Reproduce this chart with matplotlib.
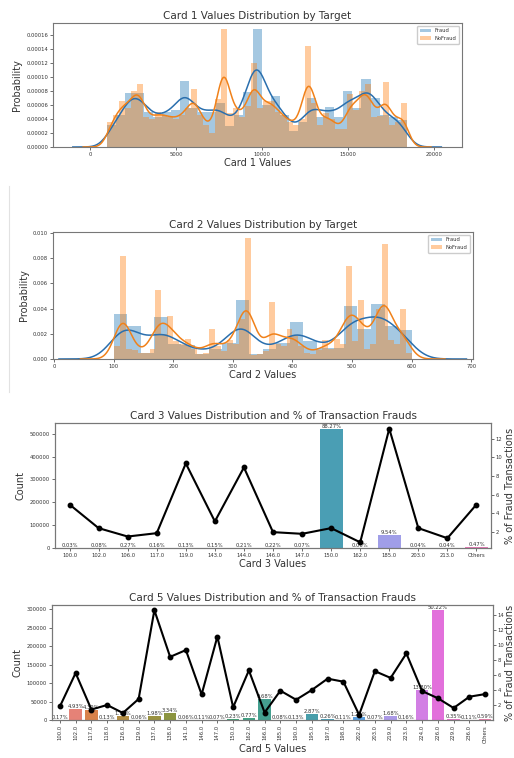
import numpy as np
import matplotlib
matplotlib.use("Agg")
import matplotlib.pyplot as plt
from matplotlib.lines import Line2D
from matplotlib.ticker import MultipleLocator, FormatStrFormatter
import seaborn as sns

# card1 histograms (density, per bin) for the two classes
card1_fraud_edges = np.linspace(1000, 18400, 34)
card1_fraud = np.array([3.2, 4.5, 7.7, 7.7, 5.0, 4.2, 5.0, 5.2, 9.4, 5.5,
                        5.0, 5.0, 6.3, 3.0, 4.5, 7.8, 16.8, 6.0, 7.2, 4.5,
                        2.3, 3.5, 7.0, 4.3, 5.7, 4.2, 8.0, 5.5, 9.7, 7.0,
                        4.5, 4.3, 3.8]) * 1e-5
card1_nofraud_edges = np.linspace(1000, 18400, 51)
card1_nofraud = np.array([3.5, 4.5, 6.5, 5.5, 8.0, 8.9, 4.2, 4.0, 5.0, 4.5,
                          4.3, 4.0, 4.5, 5.5, 8.3, 4.5, 3.2, 2.0, 6.8, 16.8,
                          4.8, 5.5, 4.3, 5.8, 12.0, 5.5, 6.5, 6.6, 5.0, 4.5,
                          3.5, 3.2, 4.0, 14.4, 6.3, 3.2, 4.8, 4.0, 2.6, 2.6,
                          7.5, 5.3, 8.0, 9.0, 4.3, 4.4, 9.3, 3.2, 3.5, 6.3]) * 1e-5

# card2 histograms
card2_fraud_edges = np.linspace(100, 600, 23)
card2_fraud = np.array([3.6, 2.6, 0.5, 3.3, 1.2, 1.1, 0.4, 0.8, 1.3, 4.7,
                        0.4, 0.8, 1.3, 2.9, 1.4, 0.9, 0.9, 4.2, 2.4, 4.4,
                        2.6, 2.3]) * 1e-3
card2_nofraud_edges = np.linspace(100, 600, 51)
card2_nofraud = np.array([1.0, 8.2, 0.8, 0.7, 0.5, 0.5, 0.8, 5.5, 2.0, 3.4,
                          1.4, 1.2, 1.6, 0.8, 0.4, 0.5, 2.4, 1.0, 0.6, 1.5,
                          1.2, 3.2, 9.6, 0.3, 0.4, 0.6, 4.5, 1.2, 1.0, 2.4,
                          1.8, 1.0, 0.5, 0.4, 0.7, 1.5, 0.8, 1.6, 1.2, 7.4,
                          1.4, 4.7, 0.8, 1.2, 4.0, 9.1, 1.5, 1.2, 4.0, 0.5]) * 1e-3

total_rows = 590540

card3_cats = ["100.0", "102.0", "106.0", "117.0", "119.0", "143.0", "144.0", "146.0",
              "147.0", "150.0", "162.0", "185.0", "203.0", "213.0", "Others"]
card3_counts = [177, 472, 1594, 945, 768, 886, 1240, 1299,
                413, 521270, 354, 56338, 236, 236, 2776]
card3_fraud_pct = [4.95, 2.42, 1.52, 1.88, 9.35, 3.14, 8.92, 1.99,
                   1.81, 2.42, 0.9, 13.07, 2.42, 1.34, 4.95]

card5_cats = ["100.0", "102.0", "117.0", "118.0", "126.0", "129.0", "137.0", "138.0",
              "141.0", "146.0", "147.0", "150.0", "162.0", "166.0", "185.0", "190.0",
              "195.0", "197.0", "198.0", "202.0", "203.0", "219.0", "223.0", "224.0",
              "226.0", "229.0", "236.0", "Others"]
card5_counts = [1004, 29114, 25925, 768, 10275, 354, 11693, 19724,
                354, 650, 413, 1358, 4547, 57164, 472, 768,
                16949, 1535, 650, 7323, 413, 9921, 945, 81495,
                296569, 2067, 650, 3484]
card5_fraud_pct = [1.8, 6.25, 1.4, 2.0, 0.94, 2.8, 14.6, 8.4,
                   9.3, 3.4, 11.1, 1.7, 6.6, 1.0, 3.9, 2.7,
                   4.0, 5.5, 5.1, 0.7, 6.5, 5.6, 8.85, 3.85,
                   2.9, 1.6, 3.1, 3.45]

TXT = "#333333"
plt.rcParams["font.family"] = "DejaVu Sans"
plt.rcParams["text.color"] = TXT
plt.rcParams["axes.labelcolor"] = TXT
plt.rcParams["xtick.color"] = TXT
plt.rcParams["ytick.color"] = TXT
plt.rcParams["axes.edgecolor"] = "#777777"
plt.rcParams["xtick.major.size"] = 2
plt.rcParams["ytick.major.size"] = 2
plt.rcParams["xtick.major.width"] = 0.5
plt.rcParams["ytick.major.width"] = 0.5


def smooth_density(edges, heights, bw, pad):
    centers = (edges[:-1] + edges[1:]) / 2
    mass = heights * np.diff(edges)
    grid = np.linspace(edges[0] - pad, edges[-1] + pad, 500)
    z = (grid[:, None] - centers[None, :]) / bw
    dens = (mass[None, :] * np.exp(-0.5 * z ** 2)).sum(axis=1) / (bw * np.sqrt(2 * np.pi))
    return grid, dens


def dist_panel(ax, fraud, nofraud, bws, title, xlabel):
    for (edges, h), bw, col, line_col, lab in zip([fraud, nofraud], bws,
                                                  ["#1f77b4", "#ff7f0e"],
                                                  ["#2a6fae", "#f0811a"],
                                                  ["Fraud", "NoFraud"]):
        ax.bar(edges[:-1], h, width=np.diff(edges), align="edge", color=col,
               alpha=0.4, linewidth=0, label=lab)
        gx, gy = smooth_density(edges, h, bw, 4 * bw)
        ax.plot(gx, gy, color=line_col, lw=1.1)
    ax.set_title(title, fontsize=7.5, pad=3)
    ax.set_xlabel(xlabel, fontsize=7, labelpad=1)
    ax.set_ylabel("Probability", fontsize=7, labelpad=3)
    ax.tick_params(labelsize=3.8, pad=1.5)
    ax.set_ylim(bottom=0)
    ax.legend(loc="upper right", fontsize=3.8, handlelength=2, framealpha=1,
              edgecolor="#cccccc", borderpad=0.5)


def count_panel(ax, cats, counts, pct, title, xlabel, rotate=False, right_pad=2):
    n = len(cats)
    pal = [sns.desaturate(c, 0.75) for c in sns.color_palette("husl", n)]
    x = np.arange(n)
    bars = ax.bar(x, counts, width=0.8, color=pal)
    for b in bars:
        h = b.get_height()
        ax.text(b.get_x() + b.get_width() / 2, h + 3,
                "{:1.2f}%".format(h / total_rows * 100),
                ha="center", va="bottom", fontsize=3.8)
    ax.set_xticks(x)
    ax.set_xticklabels(cats, rotation=90 if rotate else 0)
    ax.set_xlim(-0.5, n - 0.5)
    ax.set_title(title, fontsize=7.5, pad=3)
    ax.set_xlabel(xlabel, fontsize=7, labelpad=1)
    ax.set_ylabel("Count", fontsize=7, labelpad=3)
    ax.tick_params(labelsize=3.8, pad=1.5)
    ax2 = ax.twinx()
    ax2.plot(x, pct, color="black", lw=1.5, marker="o", ms=3.2)
    ax2.set_ylabel("% of Fraud Transactions", fontsize=7, labelpad=right_pad)
    ax2.tick_params(labelsize=3.8, pad=1.5)
    ax2.yaxis.set_major_locator(MultipleLocator(2))
    return ax2


W, H = 514, 758
fig = plt.figure(figsize=(W / 100, H / 100), dpi=100)


def px_axes(left, top, right, bottom):
    return fig.add_axes([left / W, 1 - bottom / H, (right - left) / W, (bottom - top) / H])


ax1 = px_axes(53, 23, 462, 147)
dist_panel(ax1, (card1_fraud_edges, card1_fraud), (card1_nofraud_edges, card1_nofraud),
           (500, 350), "Card 1 Values Distribution by Target", "Card 1 Values")
ax1.set_xlim(-2150, 21600)
ax1.yaxis.set_major_locator(MultipleLocator(0.00002))
ax1.yaxis.set_major_formatter(FormatStrFormatter("%.5f"))

ax2 = px_axes(53, 232, 473, 359)
dist_panel(ax2, (card2_fraud_edges, card2_fraud), (card2_nofraud_edges, card2_nofraud),
           (23, 14), "Card 2 Values Distribution by Target", "Card 2 Values")
ax2.set_xlim(-2, 703)
ax2.yaxis.set_major_locator(MultipleLocator(0.002))
ax2.yaxis.set_major_formatter(FormatStrFormatter("%.3f"))

ax3 = px_axes(55, 423, 491, 548)
count_panel(ax3, card3_cats, card3_counts, card3_fraud_pct,
            "Card 3 Values Distribution and % of Transaction Frauds", "Card 3 Values")
ax3.yaxis.set_major_locator(MultipleLocator(100000))

ax4 = px_axes(52, 605, 493, 720)
count_panel(ax4, card5_cats, card5_counts, card5_fraud_pct,
            "Card 5 Values Distribution and % of Transaction Frauds", "Card 5 Values",
            rotate=True, right_pad=0.5)
ax4.yaxis.set_major_locator(MultipleLocator(50000))

# thin frame line of the second block
fig.add_artist(Line2D([9 / W, 9 / W], [1 - 186 / H, 1 - 392 / H],
                      transform=fig.transFigure, color="#e2e2e2", lw=0.8))

fig.savefig("out.png", dpi=100)
